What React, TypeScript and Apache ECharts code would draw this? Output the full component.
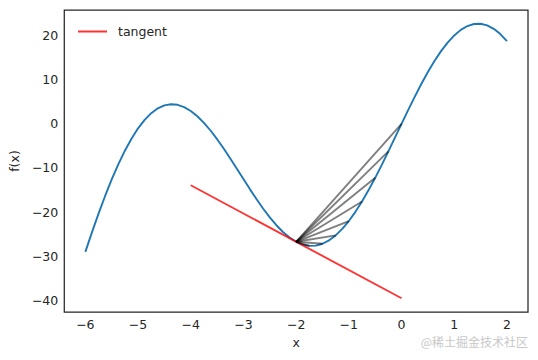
import React, { useEffect, useRef } from "react";
import * as echarts from "echarts";

// Curve samples (step 0.125)
const curveX = [
  -6, -5.875, -5.75, -5.625, -5.5, -5.375, -5.25, -5.125, -5, -4.875, -4.75,
  -4.625, -4.5, -4.375, -4.25, -4.125, -4, -3.875, -3.75, -3.625, -3.5, -3.375,
  -3.25, -3.125, -3, -2.875, -2.75, -2.625, -2.5, -2.375, -2.25, -2.125, -2,
  -1.875, -1.75, -1.625, -1.5, -1.375, -1.25, -1.125, -1, -0.875, -0.75,
  -0.625, -0.5, -0.375, -0.25, -0.125, 0, 0.125, 0.25, 0.375, 0.5, 0.625, 0.75,
  0.875, 1, 1.125, 1.25, 1.375, 1.5, 1.625, 1.75, 1.875, 2,
];
const curveY = [
  -29.015, -24.592, -20.356, -16.349, -12.612, -9.181, -6.089, -3.364, -1.027,
  0.905, 2.42, 3.514, 4.188, 4.45, 4.312, 3.794, 2.92, 1.719, 0.227, -1.513,
  -3.48, -5.608, -7.857, -10.18, -12.528, -14.852, -17.104, -19.239, -21.212,
  -22.983, -24.514, -25.774, -26.732, -27.368, -27.662, -27.604, -27.187,
  -26.413, -25.287, -23.822, -22.037, -19.954, -17.603, -15.018, -12.236,
  -9.297, -6.247, -3.132, 0, 3.101, 6.122, 9.016, 11.736, 14.237, 16.478,
  18.423, 20.037, 21.291, 22.162, 22.632, 22.687, 22.322, 21.537, 20.337,
  18.732,
];
// Secant end points (start at x = -2)
const secantStartX = -2;
const secantEndX = [0, -0.25, -0.5, -0.75, -1, -1.25, -1.5, -1.75];
// Tangent line end points
const tangentX = [-4, 0];
const tangentY = [-13.924, -39.54];

const xTicks = [-6, -5, -4, -3, -2, -1, 0, 1, 2];
const yTicks = [-40, -30, -20, -10, 0, 10, 20];

const FONT = "DejaVu Sans";
const TXT = "#262626";

const yAt = (x: number) => curveY[curveX.indexOf(x)];
const fmt = (v: number) => String(v).replace("-", "\u2212");

export default function App() {
  const ref = useRef<HTMLDivElement>(null);
  useEffect(() => {
    if (!ref.current) return;
    const chart = echarts.init(ref.current, undefined, { renderer: "svg" });
    const secants = secantEndX.map((ex) => ({
      type: "line",
      data: [
        [secantStartX, yAt(secantStartX)],
        [ex, yAt(ex)],
      ],
      symbol: "none",
      lineStyle: { color: "#000", opacity: 0.5, width: 1.9 },
      z: 4,
      silent: true,
    }));
    chart.setOption({
      animation: false,
      backgroundColor: "#fff",
      grid: {
        left: 64,
        top: 10,
        right: 10,
        bottom: 48,
        show: true,
        borderColor: TXT,
        borderWidth: 1.25,
        containLabel: false,
      },
      legend: {
        left: 73,
        top: 20,
        data: [{ name: "tangent", icon: "rect" }],
        itemWidth: 29,
        itemHeight: 2,
        textStyle: {
          fontFamily: FONT,
          fontSize: 12.5,
          color: TXT,
          padding: [0, 0, 0, 6],
        },
      },
      xAxis: {
        type: "value",
        min: -6.4,
        max: 2.4,
        name: "x",
        nameLocation: "middle",
        nameGap: 24,
        nameTextStyle: { fontFamily: FONT, fontSize: 12.5, color: TXT },
        axisLine: { show: false },
        axisTick: { show: false },
        splitLine: { show: false },
        axisLabel: {
          customValues: xTicks,
          formatter: (v: number) => fmt(v),
          fontFamily: FONT,
          fontSize: 12.5,
          color: TXT,
          margin: 6,
        },
      },
      yAxis: {
        type: "value",
        min: -42.65,
        max: 25.8,
        name: "f(x)",
        nameLocation: "middle",
        nameGap: 38,
        nameRotate: 90,
        nameTextStyle: { fontFamily: FONT, fontSize: 12.5, color: TXT },
        axisLine: { show: false },
        axisTick: { show: false },
        splitLine: { show: false },
        axisLabel: {
          customValues: yTicks,
          formatter: (v: number) => fmt(v),
          fontFamily: FONT,
          fontSize: 12.5,
          color: TXT,
          margin: 6,
        },
      },
      series: [
        {
          type: "line",
          data: curveX.map((x, i) => [x, curveY[i]]),
          symbol: "none",
          smooth: false,
          lineStyle: { color: "#1f77b4", width: 1.9 },
          z: 2,
          silent: true,
        },
        {
          name: "tangent",
          type: "line",
          data: tangentX.map((x, i) => [x, tangentY[i]]),
          symbol: "none",
          itemStyle: { color: "rgba(255,0,0,0.8)" },
          lineStyle: { color: "rgba(255,0,0,0.8)", width: 1.9 },
          z: 3,
          silent: true,
        },
        ...secants,
      ],
      graphic: [
        {
          type: "text",
          right: 10,
          top: 335,
          style: {
            text: "@稀土掘金技术社区",
            fontFamily: "Noto Sans CJK SC",
            fontSize: 12,
            fill: "#c8c8c8",
          },
        },
      ],
    });
    return () => chart.dispose();
  }, []);
  return (
    <div
      ref={ref}
      style={{ width: 538, height: 360, position: "absolute", left: 0, top: 0 }}
    />
  );
}
